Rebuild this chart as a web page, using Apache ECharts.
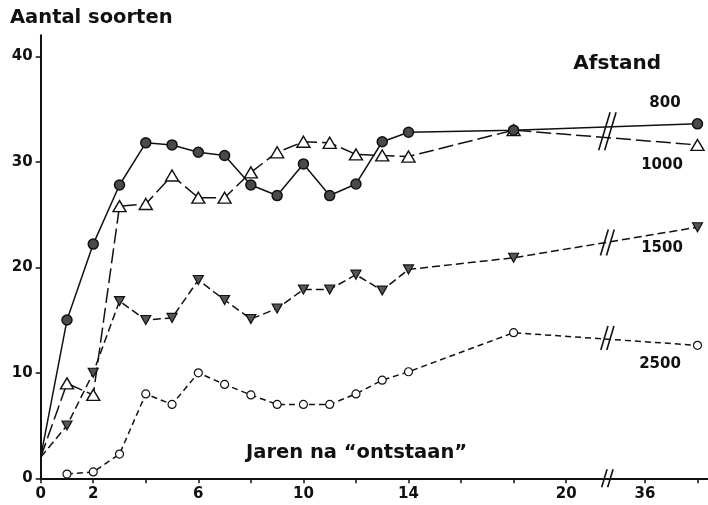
<!DOCTYPE html>
<html><head><meta charset="utf-8">
<script src="https://cdn.jsdelivr.net/npm/echarts@6/dist/echarts.min.js"></script>
<style>html,body{margin:0;padding:0;background:#fff}#c{width:708px;height:505px}</style>
</head><body><div id="c"></div>
<script>
// Years after "ontstaan" (x axis is broken between 20 and 36)
const years = [0, 1, 2, 3, 4, 5, 6, 7, 8, 9, 10, 11, 12, 13, 14, 18, 38];
const s800  = [2, 15.0, 22.2, 27.8, 31.8, 31.6, 30.9, 30.6, 27.8, 26.8, 29.8, 26.8, 27.9, 31.9, 32.8, 33.0, 33.6];
const s1000 = [2, 9.0, 7.9, 25.8, 26.0, 28.7, 26.6, 26.6, 29.0, 30.9, 31.9, 31.8, 30.7, 30.6, 30.5, 33.0, 31.6];
const s1500 = [2, 5.0, 10.0, 16.8, 15.0, 15.2, 18.8, 16.9, 15.1, 16.1, 17.9, 17.9, 19.3, 17.8, 19.8, 20.9, 23.8];
const s2500 = [null, 0.4, 0.6, 2.3, 8.0, 7.0, 10.0, 8.9, 7.9, 7.0, 7.0, 7.0, 8.0, 9.3, 10.1, 13.8, 12.6];
const seriesNames = ['800', '1000', '1500', '2500'];
const xTickYears = [0, 2, 4, 6, 8, 10, 12, 14, 16, 18, 20, 36, 38];
const xLabelYears = [0, 2, 6, 10, 14, 20, 36];
const yLabels = [0, 10, 20, 30, 40];
// axis break: years beyond breakAfter are shifted left by breakShift
const breakAfter = 21, breakShift = 13;
const breakYear = 34.5;
const breakMarkY = [32.9, 22.35, 13.3, 0];

const pos = y => (y > breakAfter ? y - breakShift : y);
const unpos = p => (p > breakAfter - 0.5 ? p + breakShift : p);
const toData = arr => years.map((y, i) => arr[i] == null ? null : {
  value: [pos(y), arr[i]], symbol: i === 0 ? 'none' : undefined
}).filter(d => d);

const F = '"DejaVu Sans", "Liberation Sans", sans-serif';
const chart = echarts.init(document.getElementById('c'), null, {renderer: 'canvas'});
const breakH = [38, 26, 24, 18];

chart.setOption({
  animation: false,
  backgroundColor: '#fff',
  grid: {left: 40.7, right: 0, top: 35.2, bottom: 26.7, containLabel: false},
  xAxis: {
    type: 'value', min: 0, max: 25.4,
    axisLine: {lineStyle: {color: '#111', width: 2}},
    axisTick: {show: true, length: 5, customValues: xTickYears.map(pos), lineStyle: {color: '#111', width: 1.5}},
    axisLabel: {customValues: xLabelYears.map(pos), formatter: v => String(Math.round(unpos(v))),
      color: '#111', fontFamily: F, fontWeight: 'bold', fontSize: 15, margin: 8},
    splitLine: {show: false}
  },
  yAxis: {
    type: 'value', min: 0, max: 42,
    axisLine: {show: true, lineStyle: {color: '#111', width: 2}},
    axisTick: {show: true, length: 5, customValues: yLabels, lineStyle: {color: '#111', width: 1.5}},
    axisLabel: {customValues: yLabels, color: '#111', fontFamily: F, fontWeight: 'bold', fontSize: 15, margin: 8},
    splitLine: {show: false}
  },
  series: [
    {name: seriesNames[0], type: 'line', data: toData(s800), symbol: 'circle', symbolSize: 10,
      lineStyle: {color: '#111', width: 1.5, type: 'solid'},
      itemStyle: {color: '#4a4a4a', borderColor: '#111', borderWidth: 1.5}, z: 5},
    {name: seriesNames[1], type: 'line', data: toData(s1000), symbol: 'triangle', symbolSize: [13, 11],
      lineStyle: {color: '#111', width: 1.5, type: [15, 5]},
      itemStyle: {color: '#fff', borderColor: '#111', borderWidth: 1.4}, z: 4},
    {name: seriesNames[2], type: 'line', data: toData(s1500), symbol: 'triangle', symbolRotate: 180, symbolSize: [10, 9],
      lineStyle: {color: '#111', width: 1.5, type: [8, 4]},
      itemStyle: {color: '#555', borderColor: '#111', borderWidth: 1.2}, z: 4},
    {name: seriesNames[3], type: 'line', data: toData(s2500), symbol: 'circle', symbolSize: 8,
      lineStyle: {color: '#111', width: 1.5, type: [6, 4]},
      itemStyle: {color: '#fff', borderColor: '#111', borderWidth: 1.2}, z: 4},
    {type: 'custom', silent: true, z: 10, clip: false,
      data: breakMarkY.map((v, i) => [pos(breakYear) + 0.07, v, i]),
      renderItem: function (params, api) {
        const p = api.coord([api.value(0), api.value(1)]);
        const h = breakH[api.value(2)];
        const dx = h * 0.15, g = 3;
        const mk = off => ({type: 'line', shape: {x1: p[0] + off - dx, y1: p[1] + h / 2, x2: p[0] + off + dx, y2: p[1] - h / 2},
          style: {stroke: '#111', lineWidth: 1.6}});
        return {type: 'group', children: [mk(-g), mk(g)]};
      }}
  ],
  graphic: [
    {type: 'text', x: 10, y: 18, style: {text: 'Aantal soorten', font: 'bold 19.5px ' + F, fill: '#111', verticalAlign: 'middle'}},
    {type: 'text', x: 661, y: 64, style: {text: 'Afstand', font: 'bold 20px ' + F, fill: '#111', align: 'right', verticalAlign: 'middle'}},
    {type: 'text', x: 665, y: 103, style: {text: '800', font: 'bold 15px ' + F, fill: '#111', align: 'center', verticalAlign: 'middle'}},
    {type: 'text', x: 662, y: 165, style: {text: '1000', font: 'bold 15px ' + F, fill: '#111', align: 'center', verticalAlign: 'middle'}},
    {type: 'text', x: 662, y: 248, style: {text: '1500', font: 'bold 15px ' + F, fill: '#111', align: 'center', verticalAlign: 'middle'}},
    {type: 'text', x: 660, y: 364, style: {text: '2500', font: 'bold 15px ' + F, fill: '#111', align: 'center', verticalAlign: 'middle'}},
    {type: 'text', x: 246, y: 453, style: {text: 'Jaren na \u201contstaan\u201d', font: 'bold 19.5px ' + F, fill: '#111', verticalAlign: 'middle'}}
  ]
});
</script>
</body></html>
